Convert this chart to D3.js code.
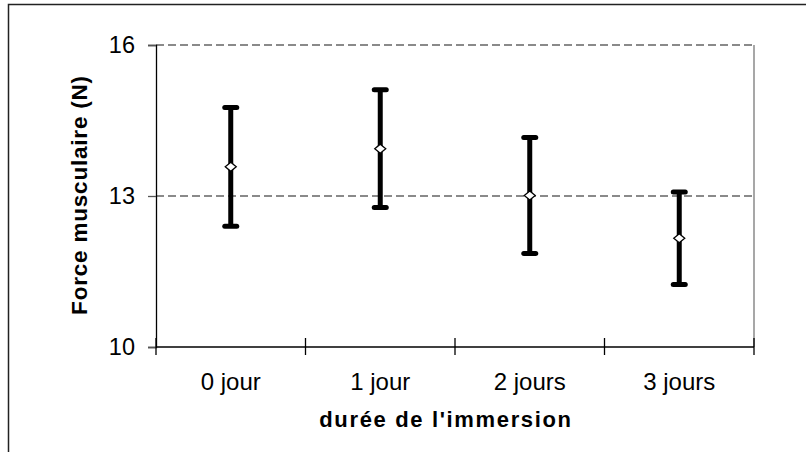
<!DOCTYPE html>
<html>
    <head>
        <title>Force musculaire</title>
        <meta charset="UTF-8">
        <script type="text/javascript" src="https://cdn.jsdelivr.net/npm/d3@7"></script>
        <style type="text/css">
            body { margin: 0; background: #fff; }
            text { font-family: "Liberation Sans", Arial, sans-serif; }
        </style>
    </head>
    <body>
        <div id="chart"></div>
        <script type="text/javascript">
            var svgW = 806;
            var svgH = 452;

            // data
            var categories = ["0 jour", "1 jour", "2 jours", "3 jours"];
            var means = [13.58, 13.94, 13.01, 12.16];
            var errors = [1.18, 1.17, 1.15, 0.92];
            var yTicks = [10, 13, 16];
            var yTitle = "Force musculaire (N)";
            var xTitle = "durée de l'immersion";

            // plot area (window.top is reserved, so plot* names)
            var plotL = 156, plotR = 754, plotT = 45, plotB = 347;

            var svg = d3.select("#chart").append("svg")
                    .attr("width", svgW)
                    .attr("height", svgH);

            // outer chart frame (runs off right and bottom)
            svg.append("rect")
                    .attr("x", 8.5).attr("y", 4.5)
                    .attr("width", svgW + 20).attr("height", svgH + 20)
                    .attr("fill", "none")
                    .attr("stroke", "#222")
                    .attr("stroke-width", 1.5);

            var x = d3.scaleBand().domain(categories).range([plotL, plotR]);
            var y = d3.scaleLinear().domain([10, 16]).range([plotB, plotT]);

            // gridlines (dashed gray) at 13 and 16
            svg.append("g").selectAll("line")
                    .data(yTicks.filter(function (d) { return d > 10; }))
                    .enter().append("line")
                    .attr("x1", plotL).attr("x2", plotR)
                    .attr("y1", function (d) { return y(d); })
                    .attr("y2", function (d) { return y(d); })
                    .attr("stroke", "#8a8a8a")
                    .attr("stroke-width", 1.8)
                    .attr("stroke-dasharray", "8,4");

            // right border of plot area
            svg.append("line")
                    .attr("x1", plotR).attr("x2", plotR)
                    .attr("y1", plotT).attr("y2", plotB)
                    .attr("stroke", "#8a8a8a")
                    .attr("stroke-width", 1.5);

            // y axis
            var yAxis = svg.append("g")
                    .attr("transform", "translate(" + plotL + ",0)")
                    .call(d3.axisLeft(y).tickValues(yTicks).tickSize(8).tickPadding(13)
                            .tickFormat(d3.format("d")));
            yAxis.select(".domain").attr("stroke", "#000").attr("stroke-width", 1.3);
            yAxis.selectAll(".tick line").attr("stroke", "#555").attr("stroke-width", 1.3);
            yAxis.selectAll("text")
                    .attr("font-family", "Liberation Sans, Arial, sans-serif")
                    .attr("font-size", 23.5)
                    .attr("fill", "#000");

            // x axis: cross ticks at band edges
            var xAxis = svg.append("g")
                    .attr("transform", "translate(0," + plotB + ")");
            xAxis.append("line")
                    .attr("x1", plotL).attr("x2", plotR)
                    .attr("stroke", "#000").attr("stroke-width", 1.3);
            var edges = categories.map(function (c) { return x(c); }).concat([plotR]);
            xAxis.selectAll(".xtick")
                    .data(edges)
                    .enter().append("line")
                    .attr("class", "xtick")
                    .attr("x1", function (d) { return d; })
                    .attr("x2", function (d) { return d; })
                    .attr("y1", -9).attr("y2", 8)
                    .attr("stroke", "#000").attr("stroke-width", 1.3);
            xAxis.selectAll(".xlabel")
                    .data(categories)
                    .enter().append("text")
                    .attr("class", "xlabel")
                    .attr("x", function (d) { return x(d) + x.bandwidth() / 2; })
                    .attr("y", 43)
                    .attr("text-anchor", "middle")
                    .attr("font-size", 24)
                    .attr("fill", "#000")
                    .text(function (d) { return d; });

            // axis titles
            svg.append("text")
                    .attr("x", 446).attr("y", 427)
                    .attr("text-anchor", "middle")
                    .attr("font-size", 22)
                    .attr("font-weight", "bold")
                    .attr("letter-spacing", "1.65px")
                    .text(xTitle);

            svg.append("text")
                    .attr("transform", "translate(87,195) rotate(-90)")
                    .attr("text-anchor", "middle")
                    .attr("font-size", 22.5)
                    .attr("font-weight", "bold")
                    .attr("letter-spacing", "0.8px")
                    .text(yTitle);

            // error bars
            var pts = categories.map(function (c, i) {
                return {cat: c, m: means[i], e: errors[i]};
            });
            var bars = svg.append("g").selectAll("g")
                    .data(pts)
                    .enter().append("g")
                    .attr("transform", function (d) {
                        return "translate(" + (x(d.cat) + x.bandwidth() / 2) + ",0)";
                    });
            bars.append("line")
                    .attr("y1", function (d) { return y(d.m + d.e); })
                    .attr("y2", function (d) { return y(d.m - d.e); })
                    .attr("stroke", "#000").attr("stroke-width", 5);
            bars.selectAll(".cap")
                    .data(function (d) { return [d.m + d.e, d.m - d.e]; })
                    .enter().append("line")
                    .attr("class", "cap")
                    .attr("x1", -6).attr("x2", 6)
                    .attr("y1", function (v) { return y(v); })
                    .attr("y2", function (v) { return y(v); })
                    .attr("stroke", "#000").attr("stroke-width", 5)
                    .attr("stroke-linecap", "round");
            // diamond marker for the mean
            bars.append("path")
                    .attr("d", function (d) {
                        var cy = y(d.m);
                        return "M0," + (cy - 4.5) + "L5.5," + cy + "L0," + (cy + 4.5) + "L-5.5," + cy + "Z";
                    })
                    .attr("fill", "#fff")
                    .attr("stroke", "#000")
                    .attr("stroke-width", 1.3);
        </script>
    </body>
</html>
